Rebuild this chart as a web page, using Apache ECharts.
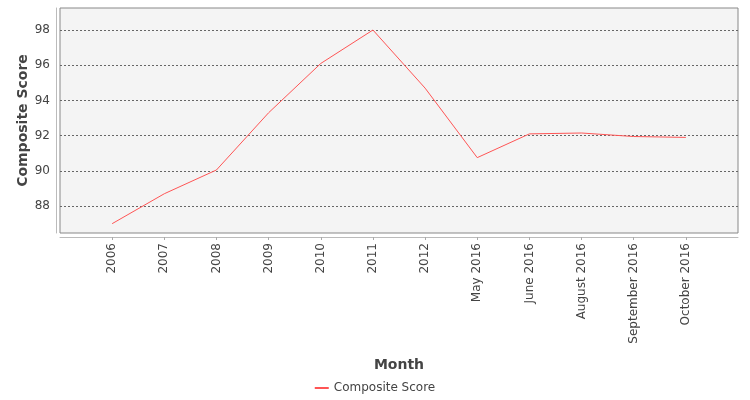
<!DOCTYPE html>
<html>
<head>
<meta charset="utf-8">
<script src="https://cdn.jsdelivr.net/npm/echarts@6/dist/echarts.min.js"></script>
<style>
  html, body { margin: 0; padding: 0; background: #fff; }
  #chart { width: 750px; height: 400px; }
</style>
</head>
<body>
<div id="chart"></div>
<script>
const months = ["2006", "2007", "2008", "2009", "2010", "2011", "2012",
  "May 2016", "June 2016", "August 2016", "September 2016", "October 2016"];
const compositeScore = [87.0, 88.7, 90.05, 93.3, 96.1, 98.0, 94.7, 90.75, 92.1, 92.15, 91.95, 91.9];
const yTicks = [88, 90, 92, 94, 96, 98];

const chart = echarts.init(document.getElementById("chart"));
const font = "DejaVu Sans";

// x is a value axis so the category points can sit one slot in from each edge
const points = compositeScore.map((v, i) => [i, v]);
const xIdx = months.map((m, i) => i);

const option = {
  animation: false,
  textStyle: { fontFamily: font },
  grid: {
    left: 60, right: 12, top: 8, bottom: 167,
    outerBoundsMode: "none",
    show: true,
    backgroundColor: "#f4f4f4",
    borderColor: "#888",
    borderWidth: 1
  },
  legend: {
    bottom: 1,
    left: "center",
    itemWidth: 14,
    itemHeight: 2,
    icon: "rect",
    textStyle: { fontFamily: font, fontSize: 12, color: "#444" },
    data: ["Composite Score"]
  },
  xAxis: {
    type: "value",
    min: -1,
    max: 12,
    offset: 4,
    name: "Month",
    nameLocation: "middle",
    nameGap: 121,
    nameTextStyle: { fontFamily: font, fontSize: 14, fontWeight: "bold", color: "#444" },
    axisLine: { show: true, onZero: false, lineStyle: { color: "#bbb" } },
    axisTick: { show: true, customValues: xIdx, length: 3, lineStyle: { color: "#aaa" } },
    axisLabel: {
      customValues: xIdx,
      rotate: 90,
      margin: 6,
      fontSize: 12,
      color: "#444",
      formatter: (v) => months[v] || ""
    },
    splitLine: { show: false }
  },
  yAxis: {
    type: "value",
    min: 86.47,
    max: 99.25,
    offset: 4,
    name: "Composite Score",
    nameLocation: "middle",
    nameGap: 26,
    nameMoveOverlap: false,
    nameTextStyle: { fontFamily: font, fontSize: 14, fontWeight: "bold", color: "#444" },
    axisLine: { show: true, onZero: false, lineStyle: { color: "#bbb" } },
    axisTick: { show: false, customValues: yTicks },
    axisLabel: { customValues: yTicks, margin: 6, fontSize: 12, color: "#444" },
    splitLine: {
      show: true,
      lineStyle: { color: "#666", type: [2, 2], width: 1 }
    }
  },
  series: [
    {
      name: "Composite Score",
      type: "line",
      data: points,
      symbol: "none",
      lineStyle: { color: "#ff5555", width: 1 },
      itemStyle: { color: "#ff5555" }
    }
  ]
};

chart.setOption(option);
</script>
</body>
</html>
